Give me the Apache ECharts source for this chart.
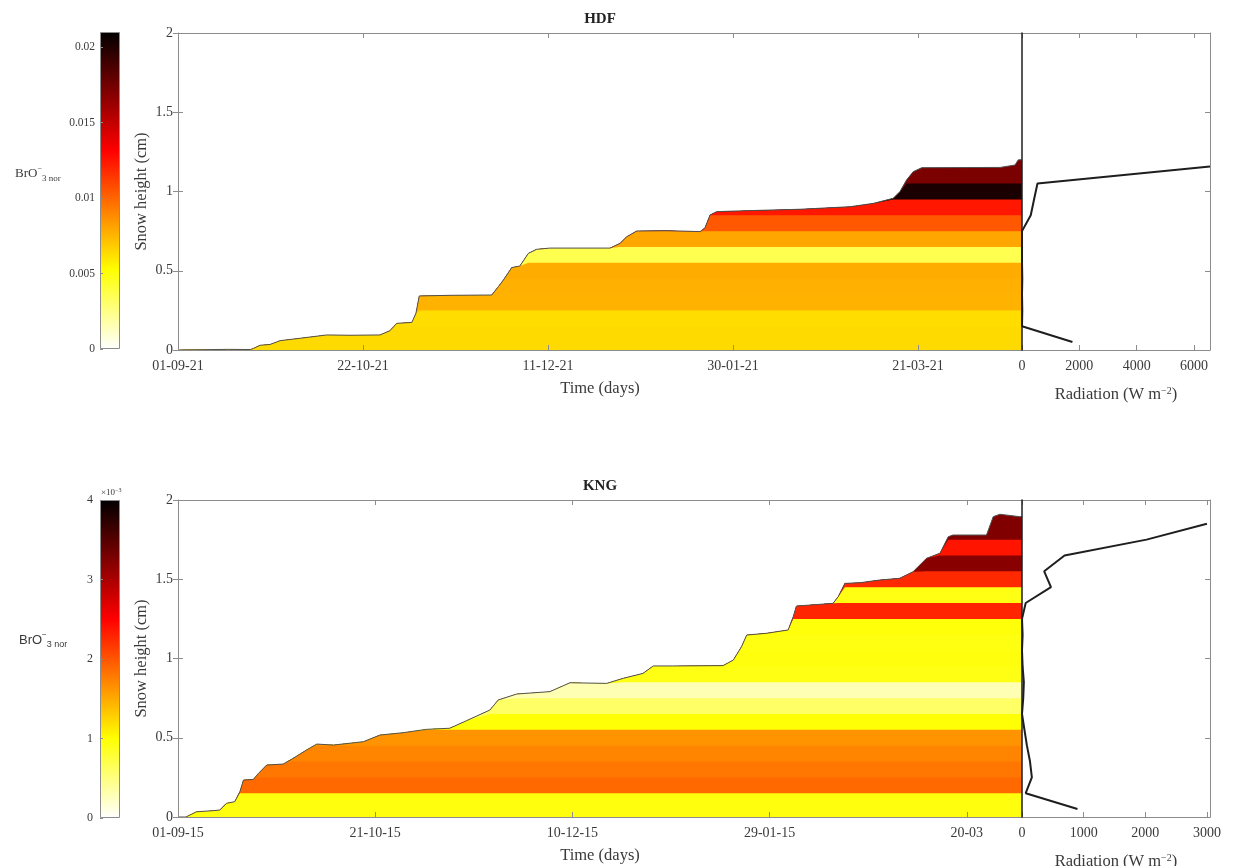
<!DOCTYPE html>
<html>
<head>
<meta charset="utf-8">
<title>HDF / KNG snow BrO3 profiles</title>
<script src="https://cdn.jsdelivr.net/npm/echarts@6/dist/echarts.min.js"></script>
<style>
  html, body { margin: 0; padding: 0; background: #ffffff; }
  #chart { width: 1233px; height: 866px; }
</style>
</head>
<body>
<div id="chart"></div>
<script>
// ---------------- HDF ----------------
// snow surface height (cm) against days since 01-09
const hdfDays = [0, 13.6, 19.5, 20.4, 22.2, 24.9, 27.6, 33.0, 40.2, 46.5,
  54.6, 57.3, 59.1, 63.2, 64.3, 65.2, 73.5, 84.8, 86.6, 87.9,
  90.2, 92.4, 94.7, 96.9, 100.5, 116.8, 119.5, 121.3, 124.0, 132.1,
  141.1, 142.4, 143.8, 145.6, 153.7, 168.1, 181.6, 187.9, 193.3, 195.1,
  196.9, 198.7, 201.0, 222.2, 226.2, 227.1, 228.1];
const hdfHeight = [0, 0.004, 0.003, 0.010, 0.030, 0.035, 0.059, 0.074, 0.095, 0.093,
  0.095, 0.122, 0.168, 0.174, 0.231, 0.341, 0.345, 0.347, 0.400, 0.440,
  0.520, 0.530, 0.610, 0.635, 0.643, 0.643, 0.673, 0.715, 0.751, 0.753,
  0.747, 0.770, 0.852, 0.873, 0.879, 0.888, 0.904, 0.925, 0.957, 0.999,
  1.073, 1.125, 1.150, 1.152, 1.167, 1.200, 1.200];
const hdfDayMax = 228.1;
const hdfTimeTicks = ['01-09-21', '22-10-21', '11-12-21', '30-01-21', '21-03-21'];
// snow layers (cm) and their normalised BrO3 content
const hdfLayerEdges = [0, 0.05, 0.15, 0.25, 0.35, 0.45, 0.55, 0.65, 0.75, 0.85, 0.95, 1.05, 1.15, 1.25];
const hdfLayerBrO3 = [0.0064, 0.0064, 0.0063, 0.0076, 0.0077, 0.0078, 0.0036, 0.0080, 0.0104, 0.0124, 0.0202, 0.0172, 0.0172];
// radiation profile in the snowpack
const hdfRadHeight = [0.05, 0.15, 0.25, 0.35, 0.45, 0.55, 0.65, 0.75, 0.85, 0.95, 1.05, 1.157];
const hdfRadiation = [1760, 0, 10, 0, 10, 0, 0, 0, 305, 420, 540, 6560];
const hdfRadMax = 6560;
// colour scale
const hdfCbarMax = 0.021;
const hdfCbarStep = 0.005;
const hdfCbarTicks = ['0', '0.005', '0.01', '0.015', '0.02'];

// ---------------- KNG ----------------
const kngDays = [0, 2.0, 4.7, 8.9, 10.6, 12.3, 14.4, 15.7, 16.6, 19.1,
  20.4, 22.5, 26.7, 29.2, 32.6, 35.2, 39.4, 47.0, 51.2, 57.1,
  63.0, 68.9, 73.2, 79.1, 81.2, 85.9, 94.3, 99.4, 108.7, 112.9,
  117.9, 120.5, 125.4, 138.2, 140.8, 142.9, 144.2, 149.2, 154.7, 156.0,
  156.8, 166.1, 167.4, 169.1, 172.9, 177.9, 183.0, 186.4, 189.8, 193.2,
  195.3, 196.5, 205.0, 206.7, 208.4, 213.4, 214.0];
const kngHeight = [0, 0, 0.033, 0.040, 0.044, 0.086, 0.097, 0.160, 0.233, 0.237,
  0.275, 0.328, 0.334, 0.370, 0.423, 0.460, 0.454, 0.475, 0.517, 0.532,
  0.553, 0.560, 0.608, 0.675, 0.738, 0.776, 0.791, 0.847, 0.843, 0.875,
  0.906, 0.953, 0.953, 0.955, 0.990, 1.075, 1.148, 1.159, 1.180, 1.264,
  1.331, 1.348, 1.390, 1.474, 1.478, 1.495, 1.506, 1.548, 1.632, 1.664,
  1.768, 1.779, 1.779, 1.895, 1.910, 1.895, 1.895];
const kngDayMax = 214.0;
const kngTimeTicks = ['01-09-15', '21-10-15', '10-12-15', '29-01-15', '20-03'];
const kngLayerEdges = [0, 0.05, 0.15, 0.25, 0.35, 0.45, 0.55, 0.65, 0.75, 0.85, 0.95,
  1.05, 1.15, 1.25, 1.35, 1.45, 1.55, 1.65, 1.75, 1.85, 1.95];
const kngLayerBrO3 = [0.00095, 0.00095, 0.00188, 0.00180, 0.00172, 0.00163, 0.00098, 0.00060, 0.00030, 0.00092,
  0.00095, 0.00093, 0.00096, 0.00228, 0.00092, 0.00226, 0.00320, 0.00238, 0.00325, 0.00325];
const kngRadHeight = [0.05, 0.15, 0.25, 0.35, 0.45, 0.55, 0.65, 0.75, 0.85, 0.95,
  1.05, 1.15, 1.25, 1.35, 1.45, 1.55, 1.65, 1.75, 1.85];
const kngRadiation = [900, 60, 160, 130, 80, 40, 0, 20, 30, 10,
  0, 10, 0, 60, 470, 360, 690, 2020, 3000];
const kngRadMax = 3050;
const kngCbarMax = 0.004;
const kngCbarStep = 0.001;
const kngCbarTicks = ['0', '1', '2', '3', '4'];

// ---------------- styling ----------------
const SERIF = '"Liberation Serif", "Times New Roman", serif';
const SANS = '"Liberation Sans", Arial, sans-serif';
const TEXT = '#3a3a3a';
const FRAME = '#8c8c8c';

// reversed "hot" colour map: white -> yellow -> red -> black
function hotReversed(t) {
  t = Math.max(0, Math.min(1, t));
  const c = 1 - t;
  const r = Math.min(1, c / 0.375);
  const g = Math.max(0, Math.min(1, (c - 0.375) / 0.375));
  const b = Math.max(0, Math.min(1, (c - 0.75) / 0.25));
  const h = v => Math.round(v * 255);
  return 'rgb(' + h(r) + ',' + h(g) + ',' + h(b) + ')';
}
const hotStops = [
  { offset: 0, color: hotReversed(1) },
  { offset: 0.375, color: hotReversed(0.625) },
  { offset: 0.75, color: hotReversed(0.25) },
  { offset: 1, color: hotReversed(0) }
];

function tickFormatter(labels, step) {
  return function (v) {
    const i = Math.round(v / step);
    if (Math.abs(v - i * step) > step * 1e-6) return '';
    return labels[i] !== undefined ? labels[i] : '';
  };
}

// Each layer is an area from the ground up to min(surface, layer top);
// drawn from the uppermost layer down so every lower layer covers the
// part of the column beneath its own top.
function layerSeries(days, height, edges, values, vmax, axisIndex) {
  const out = [];
  for (let k = values.length - 1; k >= 0; k--) {
    const hi = edges[k + 1];
    out.push({
      type: 'line',
      xAxisIndex: axisIndex.x, yAxisIndex: axisIndex.y,
      data: days.map((d, i) => [d, Math.min(height[i], hi)]),
      symbol: 'none',
      lineStyle: { width: 0 },
      areaStyle: { color: hotReversed(values[k] / vmax), opacity: 1, origin: 'start' },
      silent: true,
      z: 2
    });
  }
  out.push({
    type: 'line',
    xAxisIndex: axisIndex.x, yAxisIndex: axisIndex.y,
    data: days.map((d, i) => [d, height[i]]),
    symbol: 'none',
    lineStyle: { color: '#505050', width: 1 },
    silent: true,
    z: 4
  });
  return out;
}

function radiationSeries(rad, h, axisIndex) {
  return {
    type: 'line',
    xAxisIndex: axisIndex.x, yAxisIndex: axisIndex.y,
    data: rad.map((r, i) => [r, h[i]]),
    symbol: 'none',
    lineStyle: { color: '#1e1e1e', width: 2 },
    silent: true,
    z: 4
  };
}

function colorbarSeries(vmax, axisIndex) {
  return {
    type: 'bar',
    xAxisIndex: axisIndex.x, yAxisIndex: axisIndex.y,
    data: [vmax],
    barWidth: '100%',
    itemStyle: {
      color: new echarts.graphic.LinearGradient(0, 0, 0, 1, hotStops),
      borderColor: FRAME, borderWidth: 1
    },
    silent: true
  };
}

const tickLabel = { color: TEXT, fontFamily: SERIF, fontSize: 14 };
const nameStyle = {
  color: TEXT, fontFamily: SERIF, fontSize: 16.5, lineHeight: 18,
  rich: { sup: { color: TEXT, fontFamily: SERIF, fontSize: 10, lineHeight: 10, verticalAlign: 'top' } }
};

function xAxisFor(grid, max, interval, formatter, position, name) {
  const a = {
    type: 'value', gridIndex: grid, min: 0, max: max, interval: interval,
    position: position, z: 6,
    axisLine: { show: true, onZero: false, lineStyle: { color: FRAME, width: 1 } },
    axisTick: { show: true, inside: true, length: 5, lineStyle: { color: FRAME } },
    axisLabel: Object.assign({ show: !!formatter, margin: 9, showMaxLabel: false, formatter: formatter || undefined }, tickLabel),
    splitLine: { show: false }
  };
  if (name) {
    a.name = name.text; a.nameLocation = 'middle'; a.nameGap = name.gap;
    a.nameTextStyle = nameStyle;
  }
  return a;
}

function yAxisFor(grid, position, opts) {
  return Object.assign({
    type: 'value', gridIndex: grid, min: 0, max: 2, interval: 0.5,
    position: position, z: 6,
    axisLine: { show: true, onZero: false, lineStyle: { color: FRAME, width: 1 } },
    axisTick: { show: true, inside: true, length: 5, lineStyle: { color: FRAME } },
    axisLabel: { show: false },
    splitLine: { show: false }
  }, opts || {});
}

const radAxisName = 'Radiation (W m{sup|\u22122})';
const cbarLabelRich = (family) => ({
  fontFamily: family, fontSize: 13, fontWeight: 'normal', lineHeight: 18, color: TEXT,
  rich: {
    sup: { fontFamily: family, fontSize: 8, lineHeight: 8, verticalAlign: 'top', color: TEXT },
    sub: { fontFamily: family, fontSize: 9, lineHeight: 9, verticalAlign: 'bottom', color: TEXT }
  }
});
const heightAxisName = {
  name: 'Snow height (cm)', nameLocation: 'middle', nameGap: 27, nameMoveOverlap: false,
  nameTextStyle: nameStyle
};

const option = {
  animation: false,
  backgroundColor: '#ffffff',
  title: [
    { text: 'HDF', left: 600, top: 12, textAlign: 'center', padding: 0,
      textStyle: { fontFamily: SERIF, fontSize: 15, fontWeight: 'bold', color: '#222' } },
    { text: 'KNG', left: 600, top: 479, textAlign: 'center', padding: 0,
      textStyle: { fontFamily: SERIF, fontSize: 15, fontWeight: 'bold', color: '#222' } },
    { text: 'BrO{sup|\u2212}{sub|3 nor}', left: 15, top: 165, padding: 0, textStyle: cbarLabelRich(SERIF) },
    { text: 'BrO{sup|\u2212}{sub|3 nor}', left: 19, top: 631, padding: 0, textStyle: cbarLabelRich(SANS) },
    { text: '\u00d710{sup|\u22123}', left: 101, top: 487, padding: 0,
      textStyle: { fontFamily: SERIF, fontSize: 9, fontWeight: 'normal', lineHeight: 11, color: TEXT,
        rich: { sup: { fontFamily: SERIF, fontSize: 6, lineHeight: 6, verticalAlign: 'top', color: TEXT } } } }
  ],
  grid: [
    { left: 178, top: 33, width: 844, height: 317, containLabel: false, outerBoundsMode: 'none' },
    { left: 1022, top: 33, width: 188, height: 317, containLabel: false, outerBoundsMode: 'none' },
    { left: 178, top: 500, width: 844, height: 317, containLabel: false, outerBoundsMode: 'none' },
    { left: 1022, top: 500, width: 188, height: 317, containLabel: false, outerBoundsMode: 'none' },
    { left: 100, top: 32, width: 20, height: 317, containLabel: false, outerBoundsMode: 'none' },
    { left: 100, top: 500, width: 20, height: 318, containLabel: false, outerBoundsMode: 'none' }
  ],
  xAxis: [
    xAxisFor(0, hdfDayMax, 50, tickFormatter(hdfTimeTicks, 50), 'bottom', { text: 'Time (days)', gap: 30 }),
    xAxisFor(0, hdfDayMax, 50, null, 'top'),
    xAxisFor(1, hdfRadMax, 2000, v => String(v), 'bottom', { text: radAxisName, gap: 36 }),
    xAxisFor(1, hdfRadMax, 2000, null, 'top'),
    xAxisFor(2, kngDayMax, 50, tickFormatter(kngTimeTicks, 50), 'bottom', { text: 'Time (days)', gap: 30 }),
    xAxisFor(2, kngDayMax, 50, null, 'top'),
    xAxisFor(3, kngRadMax, 1000, v => String(v), 'bottom', { text: radAxisName, gap: 36 }),
    xAxisFor(3, kngRadMax, 1000, null, 'top'),
    { type: 'category', gridIndex: 4, data: ['c'], show: false },
    { type: 'category', gridIndex: 5, data: ['c'], show: false }
  ],
  yAxis: [
    yAxisFor(0, 'left', Object.assign({ axisLabel: Object.assign({ show: true, margin: 5 }, tickLabel) }, heightAxisName)),
    yAxisFor(0, 'right', { axisLine: { show: false } }),
    yAxisFor(1, 'left', { z: 7, axisLine: { show: true, onZero: false, lineStyle: { color: '#1e1e1e', width: 1.5 } }, axisTick: { show: false } }),
    yAxisFor(1, 'right'),
    yAxisFor(2, 'left', Object.assign({ axisLabel: Object.assign({ show: true, margin: 5 }, tickLabel) }, heightAxisName)),
    yAxisFor(2, 'right', { axisLine: { show: false } }),
    yAxisFor(3, 'left', { z: 7, axisLine: { show: true, onZero: false, lineStyle: { color: '#1e1e1e', width: 1.5 } }, axisTick: { show: false } }),
    yAxisFor(3, 'right'),
    {
      type: 'value', gridIndex: 4, min: 0, max: hdfCbarMax, interval: hdfCbarStep, z: 6,
      axisLine: { show: false },
      axisTick: { show: true, inside: true, length: 3, lineStyle: { color: FRAME } },
      axisLabel: { show: true, margin: 5, showMaxLabel: false, formatter: tickFormatter(hdfCbarTicks, hdfCbarStep),
        color: TEXT, fontFamily: SERIF, fontSize: 11.5 },
      splitLine: { show: false }
    },
    {
      type: 'value', gridIndex: 5, min: 0, max: kngCbarMax, interval: kngCbarStep, z: 6,
      axisLine: { show: false },
      axisTick: { show: true, inside: true, length: 3, lineStyle: { color: FRAME } },
      axisLabel: { show: true, margin: 7, formatter: tickFormatter(kngCbarTicks, kngCbarStep),
        color: TEXT, fontFamily: SERIF, fontSize: 12 },
      splitLine: { show: false }
    }
  ],
  series: [].concat(
    layerSeries(hdfDays, hdfHeight, hdfLayerEdges, hdfLayerBrO3, hdfCbarMax, { x: 0, y: 0 }),
    [radiationSeries(hdfRadiation, hdfRadHeight, { x: 2, y: 2 })],
    layerSeries(kngDays, kngHeight, kngLayerEdges, kngLayerBrO3, kngCbarMax, { x: 4, y: 4 }),
    [radiationSeries(kngRadiation, kngRadHeight, { x: 6, y: 6 })],
    [colorbarSeries(hdfCbarMax, { x: 8, y: 8 }), colorbarSeries(kngCbarMax, { x: 9, y: 9 })]
  )
};

const chart = echarts.init(document.getElementById('chart'), null, { renderer: 'canvas' });
chart.setOption(option);
</script>
</body>
</html>
